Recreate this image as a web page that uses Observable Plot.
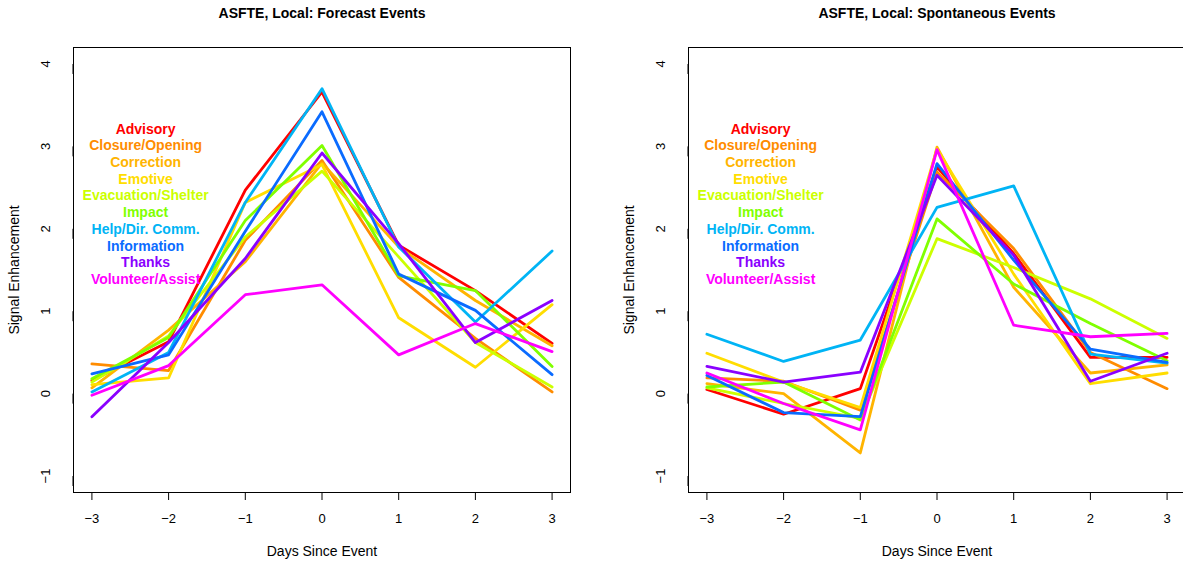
<!DOCTYPE html>
<html>
<head>
<meta charset="utf-8">
<script src="https://cdn.jsdelivr.net/npm/d3@7"></script>
<script src="https://cdn.jsdelivr.net/npm/@observablehq/plot@0.6"></script>
<style>
  html, body { margin: 0; padding: 0; background: white; overflow: hidden; }
  #wrap { display: flex; width: 1230px; height: 565px; overflow: hidden; }
  #wrap svg { flex: none; }
</style>
</head>
<body>
<div id="wrap"></div>
<script>
// ---- data ----
const days = [-3, -2, -1, 0, 1, 2, 3];
const categories = ["Advisory", "Closure/Opening", "Correction", "Emotive", "Evacuation/Shelter",
  "Impact", "Help/Dir. Comm.", "Information", "Thanks", "Volunteer/Assist"];
const colors = ["#FF0000", "#FF8C00", "#FFB400", "#FFDD00", "#CCFF00",
  "#80FF00", "#00B4F5", "#0A6BFF", "#8A00FF", "#FF00FF"];
const yTicks = [-1, 0, 1, 2, 3, 4];

// Forecast events
const fcAdvisory   = [0.16, 0.63, 2.47, 3.66, 1.80, 1.25, 0.61];
const fcClosure    = [0.36, 0.28, 1.86, 2.83, 1.41, 0.67, 0.02];
const fcCorrection = [0.07, 0.77, 1.60, 2.80, 1.78, 1.13, 0.58];
const fcEmotive    = [0.11, 0.19, 2.32, 2.78, 0.92, 0.32, 1.08];
const fcEvacuation = [0.14, 0.70, 1.90, 2.70, 1.66, 0.62, 0.08];
const fcImpact     = [0.18, 0.68, 2.10, 3.01, 1.43, 1.25, 0.33];
const fcHelp       = [0.02, 0.50, 2.32, 3.70, 1.78, 0.87, 1.73];
const fcInformation= [0.24, 0.47, 1.97, 3.42, 1.45, 1.01, 0.23];
const fcThanks     = [-0.28, 0.62, 1.64, 2.92, 1.82, 0.62, 1.13];
const fcVolunteer  = [-0.02, 0.34, 1.20, 1.32, 0.47, 0.85, 0.51];

// Spontaneous events
const spAdvisory   = [0.05, -0.25, 0.06, 2.75, 1.70, 0.44, 0.44];
const spClosure    = [0.19, 0.15, -0.20, 2.69, 1.76, 0.50, 0.06];
const spCorrection = [0.12, 0.00, -0.72, 2.99, 1.29, 0.25, 0.35];
const spEmotive    = [0.49, 0.14, -0.17, 2.97, 1.45, 0.12, 0.25];
const spEvacuation = [0.07, -0.12, -0.30, 1.88, 1.53, 1.15, 0.67];
const spImpact     = [0.08, 0.14, -0.32, 2.12, 1.33, 0.85, 0.40];
const spHelp       = [0.72, 0.39, 0.65, 2.26, 2.52, 0.48, 0.37];
const spInformation= [0.22, -0.23, -0.28, 2.79, 1.62, 0.54, 0.38];
const spThanks     = [0.33, 0.14, 0.26, 2.65, 1.68, 0.15, 0.49];
const spVolunteer  = [0.25, -0.12, -0.44, 2.96, 0.83, 0.69, 0.73];

const forecastSeries = [fcAdvisory, fcClosure, fcCorrection, fcEmotive, fcEvacuation,
  fcImpact, fcHelp, fcInformation, fcThanks, fcVolunteer];
const spontaneousSeries = [spAdvisory, spClosure, spCorrection, spEmotive, spEvacuation,
  spImpact, spHelp, spInformation, spThanks, spVolunteer];

function tidy(series) {
  const rows = [];
  series.forEach((vals, i) => vals.forEach((v, j) => rows.push({cat: categories[i], day: days[j], value: v})));
  return rows;
}

const FONT = "'Liberation Sans', Arial, Helvetica, sans-serif";
const fmt = d => (d < 0 ? "\u2212" + (-d) : String(d));

function panel(title, series) {
  return Plot.plot({
    width: 615, height: 565,
    marginLeft: 73, marginRight: 45, marginTop: 47, marginBottom: 73,
    style: {fontFamily: FONT, fontSize: "13px", color: "black", background: "white", overflow: "visible"},
    x: {domain: [-3.24, 3.24]},
    y: {domain: [-1.2, 4.2]},
    color: {domain: categories, range: colors},
    marks: [
      Plot.axisX({ticks: days, tickSize: 8, tickPadding: 13, tickFormat: fmt, label: null, fontSize: 13}),
      Plot.axisY({ticks: yTicks, tickSize: 10, tickPadding: 18, rotate: -90, textAnchor: "middle",
        tickFormat: fmt, label: null, fontSize: 13}),
      Plot.line(tidy(series), {x: "day", y: "value", z: "cat", stroke: "cat",
        strokeWidth: 2.8, strokeLinejoin: "round", strokeLinecap: "round"}),
      Plot.frame({stroke: "black", strokeWidth: 1}),
      Plot.text(categories, {x: () => -2.3, y: (d, i) => 3.21 - i * 0.203, text: d => d,
        fill: d => d, fontWeight: "bold", fontSize: 14}),
      Plot.text([title], {frameAnchor: "top", lineAnchor: "middle", textAnchor: "middle", dy: -34,
        text: d => d, fontWeight: "bold", fontSize: 14}),
      Plot.text(["Days Since Event"], {frameAnchor: "bottom", lineAnchor: "middle", textAnchor: "middle",
        dy: 59, text: d => d, fontSize: 14}),
      Plot.text(["Signal Enhancement"], {frameAnchor: "left", lineAnchor: "middle", textAnchor: "middle",
        dx: -59, rotate: -90, text: d => d, fontSize: 14})
    ]
  });
}

const wrap = document.getElementById("wrap");
wrap.appendChild(panel("ASFTE, Local: Forecast Events", forecastSeries));
wrap.appendChild(panel("ASFTE, Local: Spontaneous Events", spontaneousSeries));
</script>
</body>
</html>
